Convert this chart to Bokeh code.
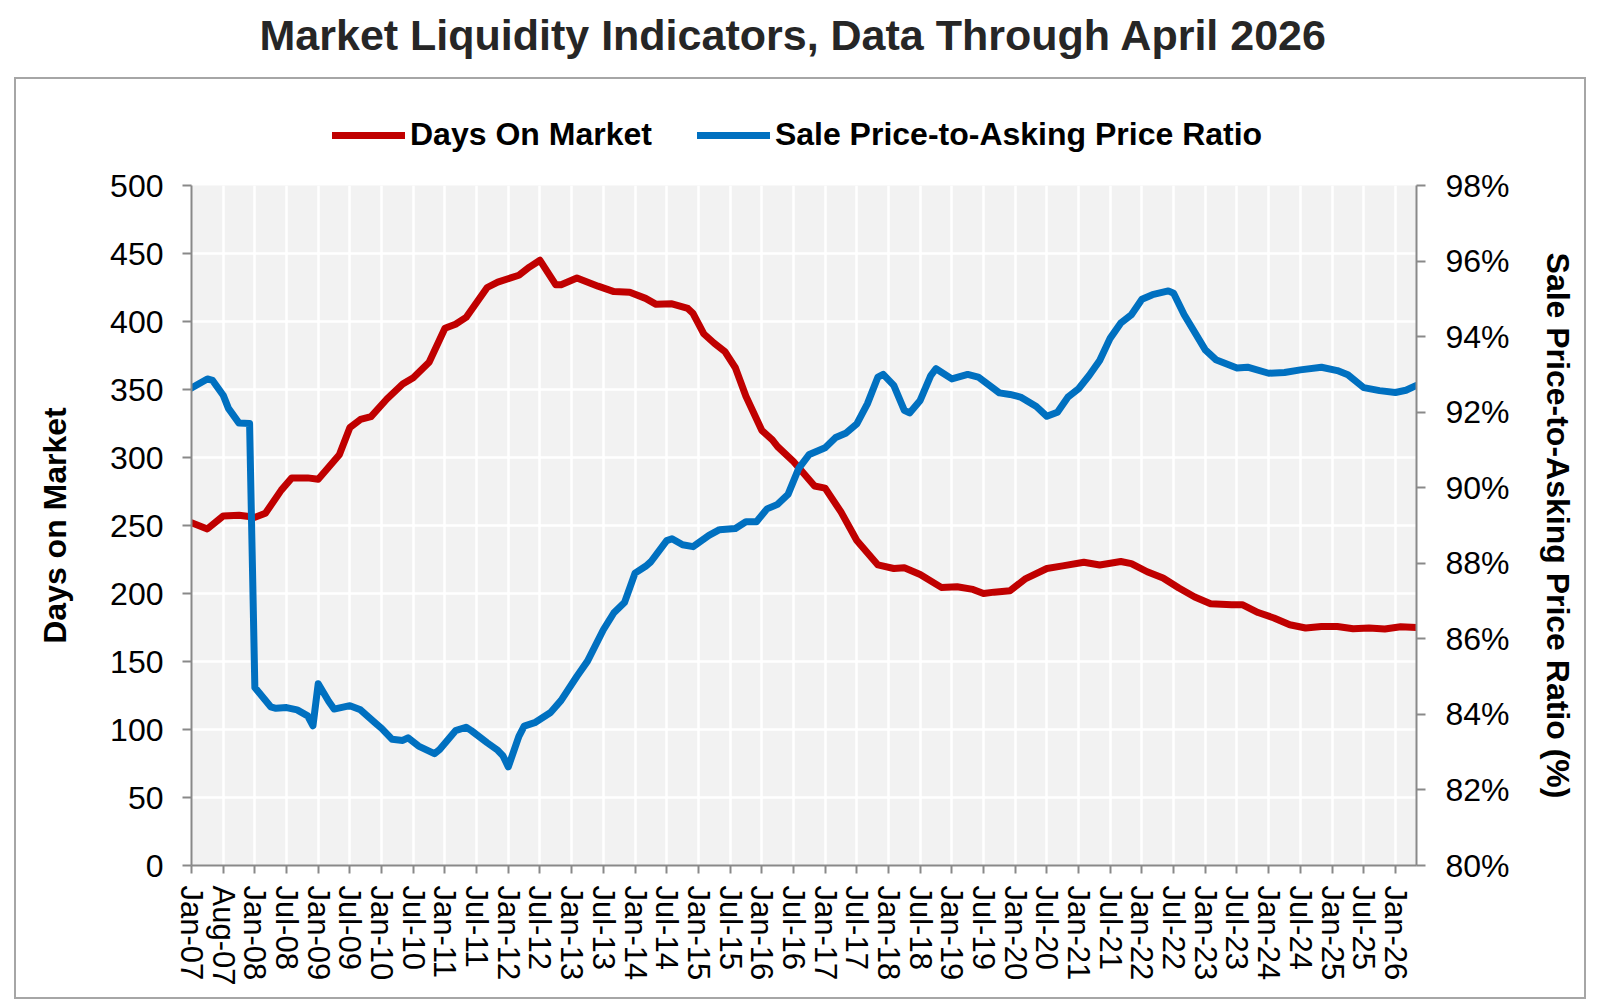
from bokeh.plotting import figure
from bokeh.layouts import column
from bokeh.models import (Range1d, LinearAxis, FixedTicker, PrintfTickFormatter,
                          Legend, LegendItem, Label)
from bokeh.embed import file_html
from bokeh.resources import INLINE

# ---------------- data ----------------
# x positions are month indices counted from Jan-07 (0) to the last point (232)
N_MONTHS = 233
tick_months = list(range(0, 229, 6))
tick_labels = ["Jan-07", "Aug-07", "Jan-08", "Jul-08", "Jan-09", "Jul-09", "Jan-10", "Jul-10",
               "Jan-11", "Jul-11", "Jan-12", "Jul-12", "Jan-13", "Jul-13", "Jan-14", "Jul-14",
               "Jan-15", "Jul-15", "Jan-16", "Jul-16", "Jan-17", "Jul-17", "Jan-18", "Jul-18",
               "Jan-19", "Jul-19", "Jan-20", "Jul-20", "Jan-21", "Jul-21", "Jan-22", "Jul-22",
               "Jan-23", "Jul-23", "Jan-24", "Jul-24", "Jan-25", "Jul-25", "Jan-26"]

dom_month = [0, 3, 6, 9, 12, 14, 17, 19, 22, 24, 26, 28, 30, 32, 34, 37, 40, 42, 45, 48,
             50, 52, 56, 58, 62, 64, 66, 69, 70, 73, 77, 80, 83, 86, 88, 91, 94, 95, 97, 99,
             101, 103, 105, 108, 110, 111, 114, 118, 120, 123, 126, 130, 133, 135, 138, 142, 145, 148, 150, 152,
             155, 158, 162, 165, 169, 172, 176, 178, 181, 184, 187, 190, 193, 197, 199, 202, 205, 208, 211, 214,
             217, 220, 223, 226, 229, 232]
days_on_market = [252, 247.5, 257, 257.5, 256, 259, 276, 285, 285, 284, 293, 302, 322, 328, 330, 343, 354, 358.7, 370, 395,
                  398, 403, 425, 429, 434, 440, 445, 427, 427, 432, 426, 422, 421.5, 417, 412.6, 413, 409.6, 405.8, 391, 384,
                  378, 366, 345, 320, 313, 308, 297, 279, 277.5, 260, 239, 221, 218.4, 219, 214, 204.5, 205, 203, 200, 201,
                  202, 211, 218.4, 220.3, 223, 221, 223.5, 222, 216, 211.4, 204, 197.4, 192.5, 191.8, 191.8, 186, 182, 177, 174.6, 175.8,
                  175.8, 174.1, 174.6, 173.9, 175.5, 175]

ratio_month = [0, 3, 4, 6, 7, 9, 11, 12, 15, 16, 18, 20, 22, 23, 24, 26, 27, 30, 32, 35,
               36, 38, 40, 41, 43, 46, 47, 50, 52, 53, 56, 58, 59, 60, 62, 63, 65, 68, 70, 73,
               75, 78, 80, 82, 84, 86, 87, 90, 91, 93, 95, 98, 100, 103, 105, 107, 109, 111, 113, 115,
               117, 120, 122, 124, 126, 128, 130, 131, 133, 135, 136, 138, 140, 141, 144, 147, 149, 153, 155, 157,
               160, 162, 164, 166, 168, 170, 172, 174, 176, 178, 180, 182, 185, 186, 188, 192, 194, 198, 200, 204,
               207, 210, 214, 217, 219, 222, 225, 228, 230, 232]
sale_to_ask_pct = [92.64, 92.88, 92.84, 92.45, 92.10, 91.71, 91.70, 84.71, 84.20, 84.16, 84.18, 84.12, 83.96, 83.70, 84.81, 84.34, 84.14, 84.23, 84.12, 83.75,
                   83.63, 83.34, 83.31, 83.38, 83.16, 82.96, 83.07, 83.57, 83.66, 83.57, 83.25, 83.05, 82.90, 82.61, 83.42, 83.69, 83.78, 84.05, 84.37, 85.01,
                   85.41, 86.24, 86.69, 86.96, 87.74, 87.92, 88.04, 88.60, 88.65, 88.49, 88.44, 88.74, 88.89, 88.92, 89.10, 89.10, 89.44, 89.56, 89.83, 90.51,
                   90.88, 91.06, 91.33, 91.45, 91.69, 92.22, 92.93, 93.00, 92.71, 92.05, 91.98, 92.31, 92.97, 93.15, 92.88, 93.00, 92.93, 92.51, 92.47, 92.40,
                   92.15, 91.89, 92.00, 92.40, 92.62, 92.97, 93.37, 93.96, 94.36, 94.58, 94.99, 95.11, 95.21, 95.15, 94.58, 93.65, 93.39, 93.17, 93.19, 93.03,
                   93.05, 93.12, 93.19, 93.10, 92.99, 92.65, 92.57, 92.52, 92.58, 92.71]

left_ticks = list(range(0, 501, 50))
right_ticks = list(range(80, 99, 2))

TITLE = "Market Liquidity Indicators, Data Through April 2026"
SERIES_NAMES = ["Days On Market", "Sale Price-to-Asking Price Ratio"]

# ---------------- layout / style ----------------
FONT = "Liberation Sans"
RED = "#c00000"
BLUE = "#0070c0"
AXIS_GRAY = "#898989"
BORDER_GRAY = "#a6a6a6"
LINE_W = 7

W, H = 1596, 1004
HEAD_H = 165                            # strip holding title + legend
FL, FR, FT, FB = 191, 1416, 185, 865   # plot-area edges on the page

# ---- header strip: title and legend (its frame is aligned with the chart's frame) ----
head = figure(width=W, height=HEAD_H, x_range=Range1d(FL, FR), y_range=Range1d(HEAD_H, 0),
              x_axis_location=None, y_axis_location=None, toolbar_location=None,
              output_backend="svg", min_border=0, outline_line_color=None,
              background_fill_color=None, border_fill_color=None)
head.grid.visible = False
# the series are drawn here only to feed the legend; this range keeps them off-frame
head.extra_y_ranges = {"off": Range1d(1000, 2000)}
leg_red = head.line(dom_month, days_on_market, line_color=RED, line_width=LINE_W,
                    line_cap="round", y_range_name="off")
leg_blue = head.line(ratio_month, sale_to_ask_pct, line_color=BLUE, line_width=LINE_W,
                     line_cap="round", y_range_name="off")
legend = Legend(items=[LegendItem(label=SERIES_NAMES[0], renderers=[leg_red]),
                       LegendItem(label=SERIES_NAMES[1], renderers=[leg_blue])],
                orientation="horizontal", location=(332 - FL, HEAD_H - 153),
                glyph_width=73, glyph_height=20, label_standoff=5, spacing=45,
                padding=0, margin=0, border_line_color=None, background_fill_alpha=0,
                label_text_font=FONT, label_text_font_size="32px",
                label_text_font_style="bold", label_text_color="black")
head.add_layout(legend, "center")

head.add_layout(Label(x=793, y=34, text=TITLE, text_align="center", text_baseline="middle",
                      text_font=FONT, text_font_size="43px", text_font_style="bold",
                      text_color="#262626"))

# ---- main chart ----
MH = H - HEAD_H
p = figure(width=W, height=MH, x_range=Range1d(0, N_MONTHS - 1), y_range=Range1d(0, 500),
           output_backend="svg", toolbar_location=None,
           min_border_left=FL, min_border_right=W - FR,
           min_border_top=FT - HEAD_H, min_border_bottom=H - FB,
           background_fill_color="#f2f2f2", border_fill_color=None,
           outline_line_color=None)
p.extra_y_ranges = {"pct": Range1d(80, 98)}

for g in (p.xgrid, p.ygrid):
    g.grid_line_color = "white"
    g.grid_line_width = 2.5


def style_axis(ax):
    ax.axis_line_color = AXIS_GRAY
    ax.axis_line_width = 2
    ax.major_tick_line_color = AXIS_GRAY
    ax.major_tick_line_width = 2
    ax.major_tick_out = 9
    ax.major_tick_in = 0
    ax.minor_tick_out = 0
    ax.minor_tick_in = 0
    ax.major_label_text_font = FONT
    ax.major_label_text_font_size = "32px"
    ax.major_label_text_color = "black"
    ax.axis_label_text_font = FONT
    ax.axis_label_text_font_size = "32px"
    ax.axis_label_text_font_style = "bold"
    ax.axis_label_text_color = "black"


xa = p.xaxis[0]
style_axis(xa)
xa.ticker = FixedTicker(ticks=tick_months)
xa.major_label_overrides = {m: lab for m, lab in zip(tick_months, tick_labels)}
xa.major_label_orientation = "vertical"
xa.major_label_text_font_size = "31px"
xa.major_label_standoff = 12
xa.major_tick_out = 8

ya = p.yaxis[0]
style_axis(ya)
ya.ticker = FixedTicker(ticks=left_ticks)
ya.major_label_standoff = 19
ya.axis_label = "Days on Market"
ya.axis_label_standoff = 34

ra = LinearAxis(y_range_name="pct")
style_axis(ra)
ra.ticker = FixedTicker(ticks=right_ticks)
ra.formatter = PrintfTickFormatter(format="%d%%")
ra.major_label_standoff = 20
ra.axis_label = "Sale Price-to-Asking Price Ratio (%)"
ra.axis_label_standoff = 27
p.add_layout(ra, "right")

p.line(dom_month, days_on_market, line_color=RED, line_width=LINE_W,
       line_join="round", line_cap="round")
p.line(ratio_month, sale_to_ask_pct, line_color=BLUE, line_width=LINE_W,
       line_join="round", line_cap="round", y_range_name="pct")

# ---- page: outer chart border drawn behind the transparent canvases ----
bx0, by0, bx1, by1 = 15, 78, 1585, 998
seg = "linear-gradient(%s,%s)" % (BORDER_GRAY, BORDER_GRAY)
page = column(head, p, spacing=0)
page.styles = {
    "background-image": ", ".join([seg] * 4),
    "background-position": "%dpx %dpx, %dpx %dpx, %dpx %dpx, %dpx %dpx" % (
        bx0 - 1, by0 - 1, bx0 - 1, by1 - 1, bx0 - 1, by0 - 1, bx1 - 1, by0 - 1),
    "background-size": "%dpx 2px, %dpx 2px, 2px %dpx, 2px %dpx" % (
        bx1 - bx0 + 2, bx1 - bx0 + 2, by1 - by0 + 2, by1 - by0 + 2),
    "background-repeat": "no-repeat",
    "background-color": "white",
}

open("out.html", "w").write(file_html(page, INLINE))
